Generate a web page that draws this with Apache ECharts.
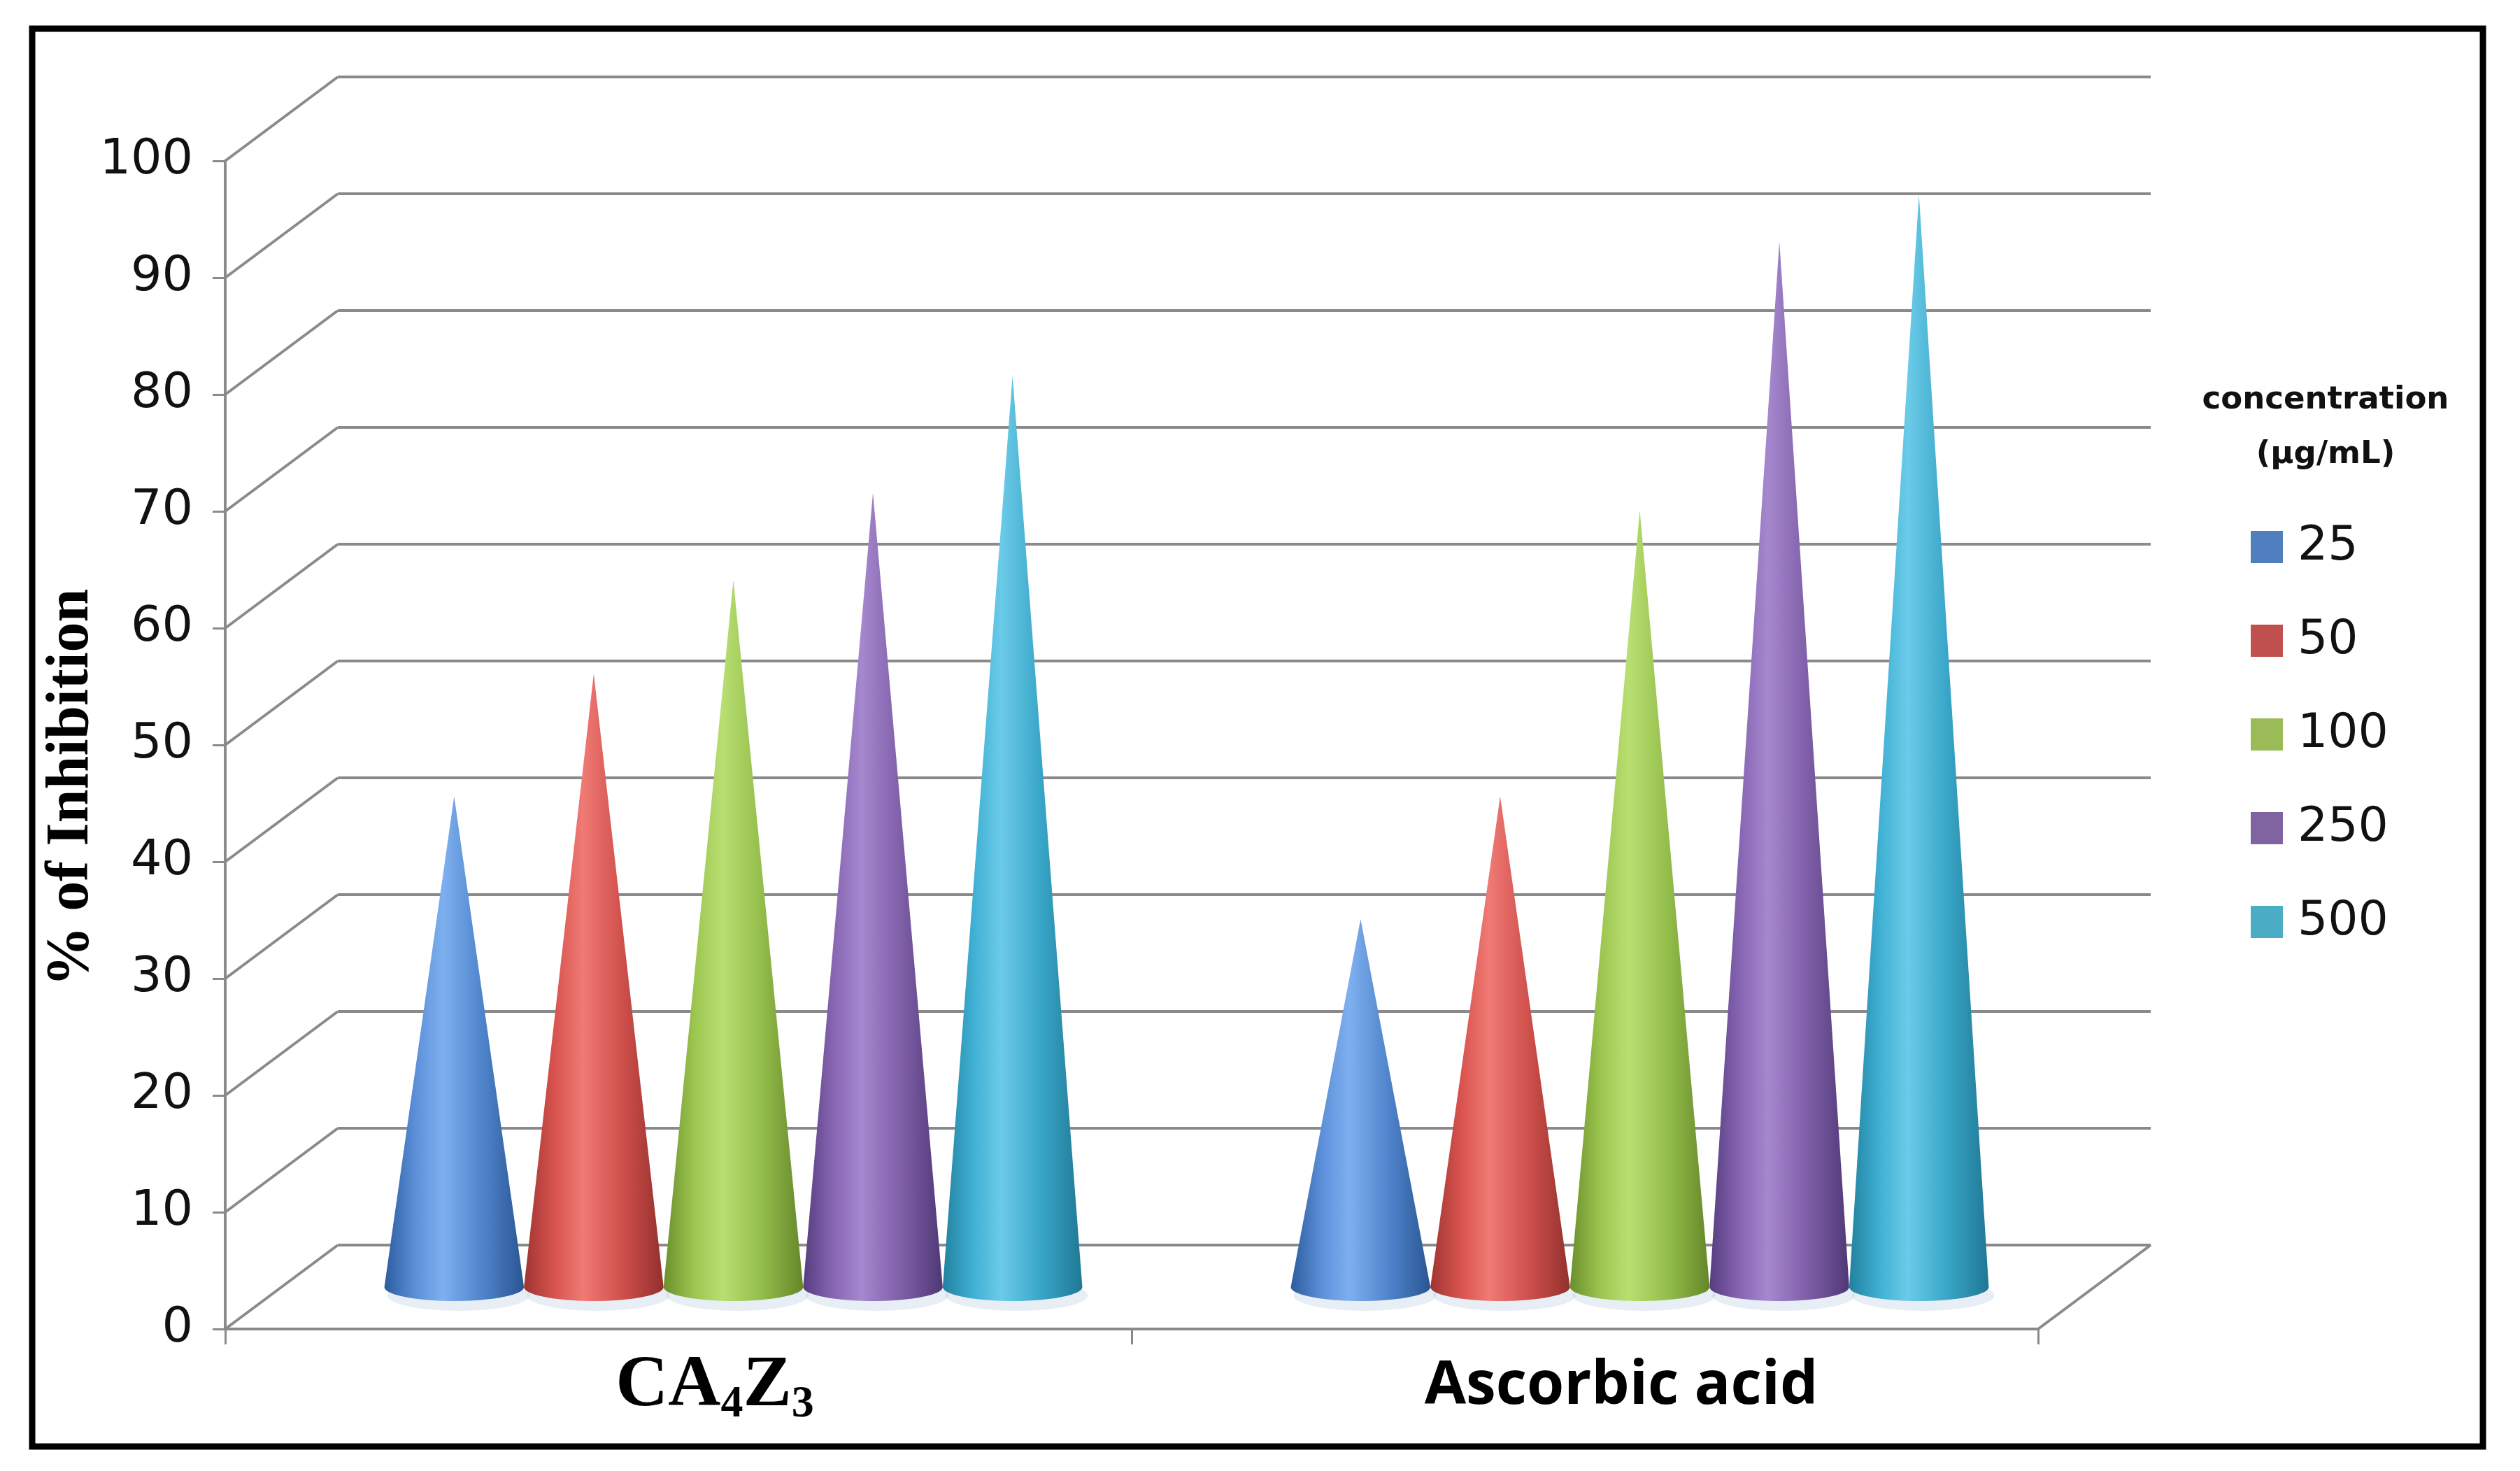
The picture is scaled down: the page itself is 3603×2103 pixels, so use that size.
<!DOCTYPE html>
<html>
<head>
<meta charset="utf-8">
<script src="https://cdn.jsdelivr.net/npm/echarts@6/dist/echarts.min.js"></script>
<style>
html,body{margin:0;padding:0;background:#fff;}
#chart{width:3603px;height:2103px;}
</style>
</head>
<body>
<div id="chart"></div>
<script>
// ---------------- data ----------------
const categories = ['CA4Z3', 'Ascorbic acid'];
const seriesNames = ['25', '50', '100', '250', '500'];
const values25  = [42.0, 31.5];
const values50  = [52.5, 42.0];
const values100 = [60.5, 66.5];
const values250 = [68.0, 89.5];
const values500 = [78.0, 93.5];
const wallValues = [0, 10, 20, 30, 40, 50, 60, 70, 80, 90, 100];
const legendTitle = 'concentration\n(µg/mL)';
const yTitle = '% of Inhibition';

// ---------------- style ----------------
const allValues = [values25, values50, values100, values250, values500];
const legendColors = ['#4f7fbe', '#c0504d', '#9bbb59', '#8064a2', '#4bacc6'];
const coneColors = [
  ['#2d5c9e', '#5b8fd8', '#7eb0f0', '#4f84cc', '#2a5592'],
  ['#9e3532', '#d9534f', '#f07a74', '#d0504c', '#93302d'],
  ['#6c8f2c', '#9cc64f', '#b9df72', '#94be4b', '#658629'],
  ['#553d7f', '#8866b3', '#a688cf', '#7f5fa8', '#4f3876'],
  ['#22819f', '#3fb0d3', '#6bcbe8', '#39a6c8', '#1f7894']
];
const DX = 161, DY = 120;            // oblique depth offset (px)
const GRID_COLOR = '#8a8a8a';

const chart = echarts.init(document.getElementById('chart'));

function wallRender(params, api) {
  const v = api.value(1);
  const p0 = api.coord([0, v]);
  const p1 = api.coord([1, v]);
  const ls = { stroke: GRID_COLOR, lineWidth: 4 };
  const children = [
    { type: 'line', shape: { x1: p0[0], y1: p0[1], x2: p0[0] + DX, y2: p0[1] - DY }, style: ls },
    { type: 'line', shape: { x1: p0[0] + DX, y1: p0[1] - DY, x2: p1[0] + DX, y2: p1[1] - DY }, style: ls }
  ];
  if (v === 0) {
    children.push({ type: 'line', shape: { x1: p1[0], y1: p1[1], x2: p1[0] + DX, y2: p1[1] - DY }, style: ls });
  }
  return { type: 'group', children: children };
}

function coneRender(idx) {
  return function (params, api) {
    const cat = api.value(0), v = api.value(1);
    const top = api.coord([cat, v]);
    const base = api.coord([cat, 0]);
    const band = api.size([1, 0])[0];
    const slot = band * 0.154;
    const cx = top[0] + (idx - 2) * slot + DX / 2 - 2;
    const yTop = top[1] - DY / 2;
    const yBase = base[1] - DY / 2;
    const r = slot * 0.5;
    const ry = r * 0.2;
    const pts = [[cx, yTop]];
    for (let k = 0; k <= 40; k++) {
      const t = Math.PI * k / 40;
      pts.push([cx + r * Math.cos(t), yBase + ry * Math.sin(t)]);
    }
    const c = coneColors[idx];
    const grad = new echarts.graphic.LinearGradient(0, 0, 1, 0, [
      { offset: 0, color: c[0] },
      { offset: 0.22, color: c[1] },
      { offset: 0.42, color: c[2] },
      { offset: 0.7, color: c[3] },
      { offset: 1, color: c[4] }
    ]);
    return {
      type: 'group',
      children: [
        { type: 'ellipse', shape: { cx: cx + 6, cy: yBase + ry * 0.6, rx: r * 1.02, ry: ry * 1.1 },
          style: { fill: 'rgba(120,160,200,0.18)' } },
        { type: 'polygon', shape: { points: pts }, style: { fill: grad } }
      ]
    };
  };
}

const series = [{
  type: 'custom',
  name: 'wall',
  xAxisIndex: 1,
  yAxisIndex: 0,
  renderItem: wallRender,
  data: wallValues.map(v => [0, v]),
  clip: false,
  silent: true,
  z: 1
}];
seriesNames.forEach((n, i) => {
  series.push({
    type: 'custom',
    name: n,
    xAxisIndex: 0,
    yAxisIndex: 0,
    itemStyle: { color: legendColors[i] },
    renderItem: coneRender(i),
    data: categories.map((c, j) => [j, allValues[i][j]]),
    clip: false,
    z: 5
  });
});

const option = {
  backgroundColor: '#ffffff',
  animation: false,
  grid: { left: 322, right: 689, top: 230, bottom: 203 },
  legend: {
    orient: 'vertical',
    left: 3213,
    top: 743,
    itemWidth: 46,
    itemHeight: 46,
    itemGap: 66,
    icon: 'rect',
    data: seriesNames.map((n, i) => ({ name: n, itemStyle: { color: legendColors[i] } })),
    textStyle: { fontFamily: 'DejaVu Sans', fontSize: 68, color: '#111', lineHeight: 68, padding: [0, 0, 0, 16] }
  },
  xAxis: [{
    type: 'category',
    data: categories,
    boundaryGap: true,
    axisLine: { show: true, lineStyle: { color: GRID_COLOR, width: 4 } },
    axisTick: { show: true, length: 22, lineStyle: { color: GRID_COLOR, width: 3 } },
    axisLabel: {
      margin: 24,
      padding: [0, 0, 0, 104],
      formatter: function (val) {
        if (val === 'CA4Z3') return '{b|CA}{s|4}{b|Z}{s|3}';
        return '{a|' + val + '}';
      },
      rich: {
        b: { fontFamily: 'Liberation Serif', fontWeight: 'bold', fontSize: 104, color: '#000', lineHeight: 116 },
        s: { fontFamily: 'Liberation Serif', fontWeight: 'bold', fontSize: 64, color: '#000', lineHeight: 64, verticalAlign: 'bottom' },
        a: { fontFamily: 'Open Sans', fontWeight: 'bold', fontSize: 86, color: '#000', lineHeight: 116 }
      }
    },
    splitLine: { show: false }
  }, {
    type: 'value',
    min: 0,
    max: 1,
    show: false
  }],
  yAxis: [{
    type: 'value',
    min: 0,
    max: 100,
    interval: 10,
    axisLine: { show: true, lineStyle: { color: GRID_COLOR, width: 4 } },
    axisTick: { show: true, length: 18, lineStyle: { color: GRID_COLOR, width: 3 } },
    axisLabel: { margin: 46, fontFamily: 'DejaVu Sans', fontSize: 70, color: '#111' },
    splitLine: { show: false }
  }],
  graphic: [
    { type: 'rect', shape: { x: 46, y: 41, width: 3504, height: 2027 },
      style: { fill: 'none', stroke: '#000', lineWidth: 9 }, z: 100 },
    { type: 'text', x: 3325, y: 611,
      style: { text: legendTitle, fontFamily: 'DejaVu Sans', fontWeight: 'bold', fontSize: 45, lineHeight: 78,
               fill: '#111', textAlign: 'center', textVerticalAlign: 'middle' }, z: 100 },
    { type: 'text', x: 103, y: 1126, rotation: Math.PI / 2,
      style: { text: yTitle, fontFamily: 'Liberation Serif', fontWeight: 'bold', fontSize: 86,
               fill: '#000', textAlign: 'center', textVerticalAlign: 'middle' }, z: 100 }
  ],
  series: series
};
chart.setOption(option);
</script>
</body>
</html>
